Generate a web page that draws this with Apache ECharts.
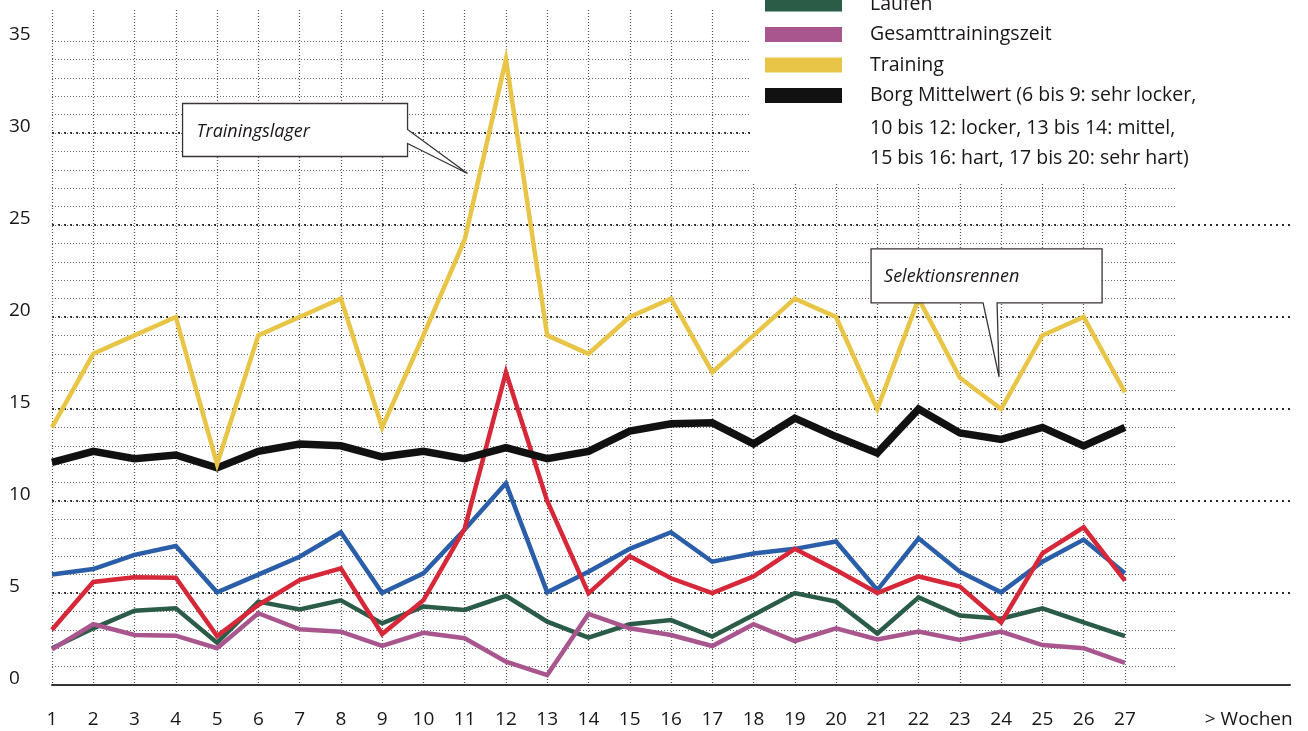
<!DOCTYPE html>
<html>
<head>
<meta charset="utf-8">
<script src="https://cdn.jsdelivr.net/npm/echarts@6/dist/echarts.min.js"></script>
<style>
html,body{margin:0;padding:0;background:#fff;}
#c{width:1308px;height:731px;}
</style>
</head>
<body>
<div id="c"></div>
<script>
// ---- data ----
const weeks = [1,2,3,4,5,6,7,8,9,10,11,12,13,14,15,16,17,18,19,20,21,22,23,24,25,26,27];
const laufen = [2.0,3.08,4.04,4.17,2.3,4.53,4.1,4.6,3.35,4.26,4.08,4.85,3.44,2.57,3.3,3.53,2.63,3.8,5.0,4.53,2.8,4.76,3.78,3.6,4.17,3.4,2.66];
const gesamt = [1.94,3.3,2.72,2.68,2.0,3.9,3.03,2.9,2.12,2.84,2.54,1.27,0.54,3.86,3.08,2.72,2.12,3.3,2.39,3.08,2.48,2.9,2.45,2.9,2.17,2.0,1.2];
const blau = [6.0,6.3,7.07,7.55,5.04,6.0,6.97,8.3,5.0,6.07,8.45,10.96,5.04,6.15,7.4,8.3,6.7,7.15,7.4,7.8,5.16,7.97,6.16,5.04,6.7,7.9,6.07];
const rot = [3.0,5.6,5.85,5.83,2.66,4.35,5.7,6.34,2.77,4.6,8.5,17.0,10.0,4.98,7.0,5.8,5.0,5.9,7.4,6.25,5.0,5.9,5.35,3.4,7.15,8.57,5.67];
const borg = [12.1,12.7,12.3,12.5,11.8,12.7,13.1,13.0,12.4,12.7,12.3,12.9,12.3,12.7,13.8,14.2,14.25,13.1,14.5,13.5,12.6,15.0,13.7,13.35,14.0,13.0,14.0];
const training = [14,18,19,20,12,19,20,21,14,19,24.2,34,19,18,20,21,17,19,21,20,15,21,16.7,15,19,20,15.9];

const yTickLabels = ['0','5','10','15','20','25','30','35'];
const xEndLabel = '> Wochen';
const borgName = 'Borg Mittelwert (6 bis 9: sehr locker,';
const borgMore = ['10 bis 12: locker, 13 bis 14: mittel,', '15 bis 16: hart, 17 bis 20: sehr hart)'];
const notes = [
  {text: 'Trainingslager', tip: [11.07, 27.8]},
  {text: 'Selektionsrennen', tip: [23.95, 16.75]}
];

const FONT = '"Open Sans"';
const TXT = '#1a1617';
const W = 500;
const pairs = arr => arr.map((v, i) => [weeks[i], v]);

function lineSeries(name, data, color, width, z) {
  return {
    name, type: 'line', data: pairs(data), xAxisIndex: 0, yAxisIndex: 0,
    symbol: 'none', z: z,
    lineStyle: {color, width, join: 'miter', miterLimit: 6},
    itemStyle: {color}
  };
}

const common = {left: 52, bottom: 46};
const option = {
  animation: false,
  backgroundColor: '#ffffff',
  textStyle: {fontFamily: FONT},
  grid: [
    Object.assign({right: 18, top: 41}, common),   // data grid
    Object.assign({right: 18, top: 133}, common),  // major lines 5..30
    Object.assign({right: 131, top: 41}, common),  // minor lines every 1
    Object.assign({right: 183, top: 10}, common)   // vertical week lines
  ],
  xAxis: [
    {gridIndex: 0, type: 'value', min: 1, max: 31, interval: 1,
     axisLine: {show: true, lineStyle: {color: '#333', width: 2}},
     axisTick: {show: false}, splitLine: {show: false},
     axisLabel: {margin: 25, fontSize: 19, fontWeight: W, color: TXT, fontFamily: FONT,
       formatter: v => (v >= 1 && v <= weeks.length) ? String(v) : (v === 30 ? xEndLabel : '')}},
    {gridIndex: 1, type: 'value', min: 1, max: 31, show: true,
     axisLine: {show: false}, axisTick: {show: false}, axisLabel: {show: false}, splitLine: {show: false}},
    {gridIndex: 2, type: 'value', min: 1, max: 28, show: true,
     axisLine: {show: false}, axisTick: {show: false}, axisLabel: {show: false}, splitLine: {show: false}},
    {gridIndex: 3, type: 'value', min: 1, max: 27, interval: 1, show: true,
     axisLine: {show: false}, axisTick: {show: false}, axisLabel: {show: false},
     splitLine: {show: true, lineStyle: {color: '#555', width: 1.2, type: [1, 2]}}}
  ],
  yAxis: [
    {gridIndex: 0, type: 'value', min: 0, max: 35, interval: 5,
     axisLine: {show: false}, axisTick: {show: false}, splitLine: {show: false},
     axisLabel: {align: 'left', margin: 43, fontSize: 19, fontWeight: W, color: TXT, fontFamily: FONT,
       verticalAlign: 'bottom', lineHeight: 12,
       formatter: (v) => yTickLabels[Math.round(v / 5)] || ''}},
    {gridIndex: 1, type: 'value', min: 0, max: 30, interval: 5,
     axisLine: {show: false}, axisTick: {show: false}, axisLabel: {show: false},
     splitLine: {show: true, lineStyle: {color: '#2a2a2a', width: 2, type: [2, 4]}}},
    {gridIndex: 2, type: 'value', min: 0, max: 35, interval: 1,
     axisLine: {show: false}, axisTick: {show: false}, axisLabel: {show: false},
     splitLine: {show: true, lineStyle: {color: '#666', width: 1, type: [1, 2]}}},
    {gridIndex: 3, type: 'value', min: 0, max: 36.7,
     axisLine: {show: false}, axisTick: {show: false}, axisLabel: {show: false}, splitLine: {show: false}}
  ],
  legend: {
    orient: 'vertical', left: 765, top: -8, padding: 0,
    itemWidth: 77, itemHeight: 15, itemGap: 6.5, icon: 'rect',
    data: ['Laufen', 'Gesamttrainingszeit', 'Training', borgName],
    itemStyle: {borderWidth: 0},
    textStyle: {fontFamily: FONT, fontSize: 19.5, fontWeight: W, color: TXT, lineHeight: 24, padding: [0, 0, 0, 23]},
    selectedMode: false
  },
  series: [
    lineSeries('Laufen', laufen, '#2b5c47', 4.5, 2),
    lineSeries('Gesamttrainingszeit', gesamt, '#a9568e', 4.5, 3),
    lineSeries('Reihe blau', blau, '#2a5ea8', 4.5, 4),
    lineSeries('Reihe rot', rot, '#d62838', 4.5, 5),
    lineSeries(borgName, borg, '#111111', 7.5, 6),
    lineSeries('Training', training, '#e8c547', 4.5, 7)
  ]
};

const chart = echarts.init(document.getElementById('c'));
chart.setOption(option);

const px = (d) => chart.convertToPixel({gridIndex: 0}, d);
const t1 = px(notes[0].tip);
const t2 = px(notes[1].tip);
const lf = W + ' 19.5px ' + FONT;

const g = [
  // white backing behind the legend block
  {type: 'rect', shape: {x: 750, y: 0, width: 558, height: 183}, style: {fill: '#fff'}, z: 3},
  {type: 'text', x: 870, y: 128, z: 5, style: {text: borgMore[0], font: lf, fill: TXT, verticalAlign: 'middle'}},
  {type: 'text', x: 870, y: 158, z: 5, style: {text: borgMore[1], font: lf, fill: TXT, verticalAlign: 'middle'}},
  // callout 1
  {type: 'polygon', z: 10, shape: {points: [
      [t1[0]-285, t1[1]-70], [t1[0]-60, t1[1]-70], [t1[0]-60, t1[1]-44], t1,
      [t1[0]-60, t1[1]-30], [t1[0]-60, t1[1]-17], [t1[0]-285, t1[1]-17]]},
   style: {fill: '#fff', stroke: '#3a3333', lineWidth: 1.3}},
  {type: 'text', z: 11, x: t1[0]-271, y: t1[1]-42,
   style: {text: notes[0].text, font: 'italic 18px ' + FONT, fill: TXT, verticalAlign: 'middle'}},
  // callout 2
  {type: 'polygon', z: 10, shape: {points: [
      [t2[0]-128, t2[1]-128], [t2[0]+103, t2[1]-128], [t2[0]+103, t2[1]-74],
      [t2[0]-2, t2[1]-74], t2, [t2[0]-16, t2[1]-74], [t2[0]-128, t2[1]-74]]},
   style: {fill: '#fff', stroke: '#3a3333', lineWidth: 1.3}},
  {type: 'text', z: 11, x: t2[0]-115, y: t2[1]-100,
   style: {text: notes[1].text, font: 'italic 18px ' + FONT, fill: TXT, verticalAlign: 'middle'}}
];
chart.setOption({graphic: g});
</script>
</body>
</html>
